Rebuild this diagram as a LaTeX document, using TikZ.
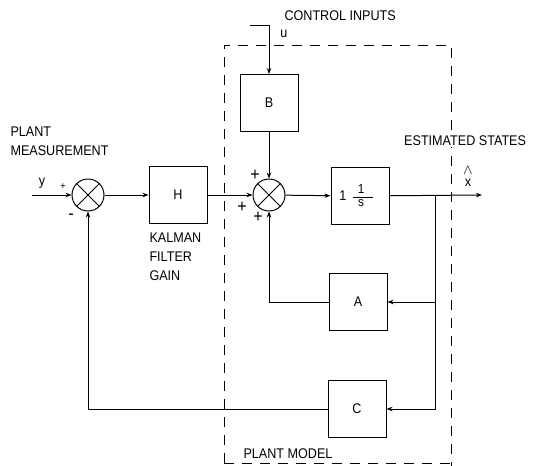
\documentclass[tikz,border=0pt]{standalone}
\usepackage{fontspec}
\setmainfont{Liberation Sans}[FakeStretch=0.9]
\usetikzlibrary{arrows.meta}
\begin{document}
\begin{tikzpicture}[x=1pt,y=-1pt,
  every node/.style={font=\fontsize{14}{19}\selectfont},
  blk/.style={draw, line width=1pt, minimum width=58pt, minimum height=57pt, inner sep=0pt},
  sumj/.style={draw, circle, line width=1pt, minimum size=32pt, inner sep=0pt},
  conn/.style={line width=1pt, -{Stealth[length=6pt,width=4.5pt]}},
  wire/.style={line width=1pt},
  fracpart/.style={inner sep=0pt, font=\fontsize{13}{13}\selectfont},
  sgn/.style={inner sep=0pt, font=\fontsize{18}{18}\selectfont},
  plantbox/.style={line width=1pt, dash pattern=on 10pt off 8pt}
]
\useasboundingbox (0,0) rectangle (552,466);
% plant model boundary
\draw[plantbox] (224,463) -- (224,45) -- (451,45) -- (451,466);
\draw[plantbox] (224,463) -- (451,463);

% blocks
\node[sumj] (J1) at (88,195) {};
\node[sumj] (J2) at (269,195) {};
\draw[wire] (J1.north west) -- (J1.south east) (J1.north east) -- (J1.south west);
\draw[wire] (J2.north west) -- (J2.south east) (J2.north east) -- (J2.south west);
\node[blk] (H) at (178,195) {H};
\node[blk] (B) at (269,103) {B};
\node[blk] (I) at (360,196) {};
\node[blk] (A) at (358,302) {A};
\node[blk] (C) at (357,409) {C};

% integrator contents
\node[inner sep=0pt] (Ione) at (343,196) {1};
\node[fracpart, anchor=south] (Inum) at (361,194) {1};
\node[fracpart, anchor=north] (Iden) at (361,199.5) {s};
\coordinate (barL) at (353,197);
\coordinate (barR) at (373,197);
\draw[line width=0.9pt] (barL) -- (barR);

% coordinates
\coordinate (yin) at (32,195);
\coordinate (xout) at (482,195);
\coordinate (br) at (435,195);
\coordinate (uin) at (250,25);
\coordinate (ucorner) at (269,25);

% connectors
\draw[conn] (yin) -- (J1);
\draw[conn] (J1) -- (H);
\draw[conn] (H) -- (J2);
\draw[conn] (J2) -- (I);
\draw[conn] (I) -- (xout);
\draw[conn] (br) |- (A);
\draw[conn] (br) |- (C);
\draw[conn] (A) -| (J2);
\draw[conn] (C) -| (J1);
\draw[conn] (B) -- (J2);
\draw[conn] (uin) -- (ucorner) -- (B);

% labels
\node[anchor=west] (lctrl) at (281,16) {CONTROL INPUTS};
\node (lu) at (284,34) {u};
\node[anchor=west, fill=white, inner sep=1pt] (lest) at (403,141) {ESTIMATED STATES};
\node[align=center, inner sep=0pt] (lx) at (468,176) {$\wedge$\\[-7pt]x};
\node[anchor=west, align=left] (lpm) at (7,141) {PLANT\\MEASUREMENT};
\node (ly) at (42,183) {y};
\node[anchor=west, align=left] (lk) at (146,257) {KALMAN\\FILTER\\GAIN};
\node[anchor=west] (lmodel) at (240,454) {PLANT MODEL};

% signs
\node[sgn, font=\fontsize{10}{10}\selectfont] (s1) at (63,187) {+};
\node[sgn] (s2) at (71,217) {-};
\node[sgn] (s3) at (255,175) {+};
\node[sgn] (s4) at (242,207) {+};
\node[sgn] (s5) at (258,217) {+};
\end{tikzpicture}
\end{document}
